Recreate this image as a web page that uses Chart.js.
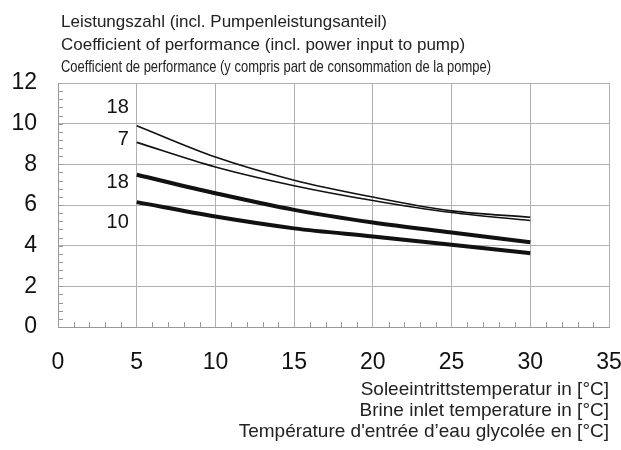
<!DOCTYPE html>
<html>
<head>
<meta charset="utf-8">
<script src="https://cdn.jsdelivr.net/npm/chart.js@4"></script>
<style>
  html, body { margin: 0; padding: 0; background: #fff; }
  #wrap { width: 621px; height: 450px; }
</style>
</head>
<body>
<div id="wrap"><canvas id="myChart" width="621" height="450"></canvas></div>
<script>
const brineTemps = [5, 10, 15, 20, 25, 30];

// COP curves, labelled by their temperature spread
const copThin18 = [9.9, 8.36, 7.22, 6.39, 5.71, 5.4];
const copThin7 = [9.08, 7.87, 6.95, 6.22, 5.63, 5.24];
const copThick18 = [7.49, 6.58, 5.76, 5.14, 4.65, 4.17];
const copThick10 = [6.14, 5.43, 4.85, 4.45, 4.04, 3.63];

const curveLabels = ["18", "7", "18", "10"];

const titleLines = [
  "Leistungszahl (incl. Pumpenleistungsanteil)",
  "Coefficient of performance (incl. power input to pump)",
  "Coefficient de performance (y compris part de consommation de la pompe)",
];

const xTitleLines = [
  "Soleeintrittstemperatur in [°C]",
  "Brine inlet temperature in [°C]",
  "Température d'entrée d’eau glycolée en [°C]",
];

function toPoints(values) {
  return brineTemps.map((t, i) => ({ x: t, y: values[i] }));
}

const FONT = "'Liberation Sans', Arial, sans-serif";

// title text above the plot
const titlePlugin = {
  id: "titleText",
  afterDraw(chart) {
    const ctx = chart.ctx;
    ctx.save();
    ctx.fillStyle = "#222";
    ctx.textAlign = "left";
    ctx.textBaseline = "alphabetic";
    ctx.font = "17px " + FONT;
    ctx.fillText(titleLines[0], 61, 27);
    ctx.fillText(titleLines[1], 61, 50);
    // third line is set in a condensed face in the original
    const w = ctx.measureText(titleLines[2]).width;
    ctx.translate(61, 72);
    ctx.scale(430 / w, 1);
    ctx.fillText(titleLines[2], 0, 0);
    ctx.restore();
  },
};

// small inner ticks along the left and bottom axis
const minorTicks = {
  id: "minorTicks",
  beforeDatasetsDraw(chart) {
    const { ctx, chartArea, scales } = chart;
    ctx.save();
    ctx.strokeStyle = "#999";
    ctx.lineWidth = 1;
    ctx.beginPath();
    for (let v = 0.4; v < 12; v += 0.4) {
      const y = Math.round(scales.y.getPixelForValue(v)) + 0.5;
      ctx.moveTo(chartArea.left, y);
      ctx.lineTo(chartArea.left + 5, y);
    }
    for (let v = 1; v < 35; v++) {
      if (v % 5 === 0) continue;
      const x = Math.round(scales.x.getPixelForValue(v)) + 0.5;
      ctx.moveTo(x, chartArea.bottom);
      ctx.lineTo(x, chartArea.bottom - 5);
    }
    ctx.stroke();
    ctx.restore();
  },
};

// curve labels left of the start points
const curveLabelPlugin = {
  id: "curveLabels",
  afterDatasetsDraw(chart, args, opts) {
    const { ctx, scales } = chart;
    ctx.save();
    ctx.fillStyle = "#111";
    ctx.font = "20px " + FONT;
    ctx.textAlign = "right";
    ctx.textBaseline = "middle";
    curveLabels.forEach((lbl, i) => {
      const x = scales.x.getPixelForValue(opts.labelX);
      const y = scales.y.getPixelForValue(opts.labelY[i]);
      ctx.fillText(lbl, x, y);
    });
    ctx.restore();
  },
};

const ctx = document.getElementById("myChart");

new Chart(ctx, {
  type: "line",
  data: {
    datasets: [
      { data: toPoints(copThin18), borderWidth: 1.6 },
      { data: toPoints(copThin7), borderWidth: 1.6 },
      { data: toPoints(copThick18), borderWidth: 4 },
      { data: toPoints(copThick10), borderWidth: 4 },
    ].map((d) => ({
      ...d,
      borderColor: "#111",
      pointRadius: 0,
      fill: false,
      cubicInterpolationMode: "monotone",
    })),
  },
  options: {
    responsive: false,
    animation: false,
    layout: { padding: { top: 83, right: 12, left: 0, bottom: 0 } },
    plugins: {
      legend: { display: false },
      tooltip: { enabled: false },
      curveLabels: { labelX: 4.5, labelY: [10.82, 9.2, 7.13, 5.12] },
    },
    scales: {
      x: {
        type: "linear",
        min: 0,
        max: 35,
        ticks: {
          stepSize: 5,
          color: "#111",
          font: { family: FONT, size: 23 },
          padding: 22,
          maxRotation: 0,
        },
        grid: { color: "#b0b0b0", drawTicks: false },
        border: { color: "#999" },
        title: {
          display: true,
          text: xTitleLines,
          align: "end",
          color: "#222",
          font: { family: FONT, size: 19, lineHeight: 1.1 },
          padding: { top: 0, bottom: 8 },
        },
        afterFit(scale) {
          scale.height = 123;
          scale.paddingLeft = 0;
          scale.paddingRight = 0;
        },
      },
      y: {
        min: 0,
        max: 12,
        ticks: {
          stepSize: 2,
          color: "#111",
          font: { family: FONT, size: 23 },
          padding: 21,
        },
        grid: { color: "#b0b0b0", drawTicks: false },
        border: { color: "#999" },
        afterFit(scale) {
          scale.width = 58;
          scale.paddingTop = 0;
          scale.paddingBottom = 0;
        },
      },
    },
  },
  plugins: [titlePlugin, minorTicks, curveLabelPlugin],
});
</script>
</body>
</html>
